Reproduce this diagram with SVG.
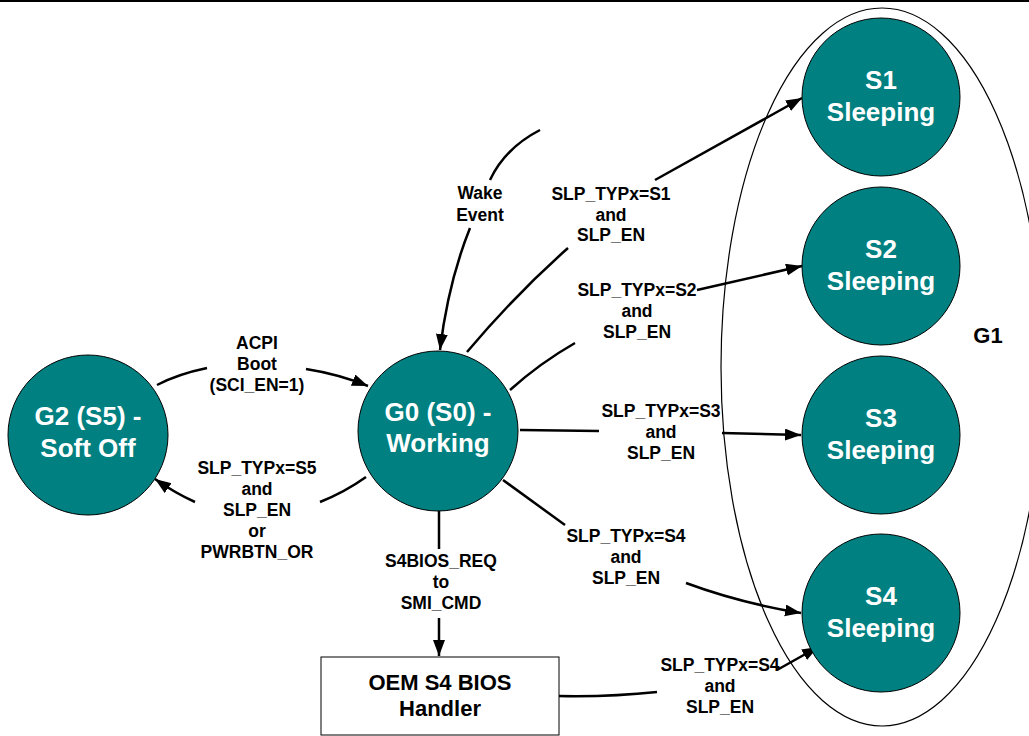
<svg xmlns="http://www.w3.org/2000/svg" width="1029" height="736" viewBox="0 0 1029 736">
<style>
.node{fill:#008080;stroke:#000;stroke-width:1}
.nt{font-family:"Liberation Sans",Arial,sans-serif;font-weight:bold;font-size:26px;fill:#fff;text-anchor:middle}
.lb{font-family:"Liberation Sans",Arial,sans-serif;font-weight:bold;font-size:17.5px;fill:#000;text-anchor:middle}
.bt{font-family:"Liberation Sans",Arial,sans-serif;font-weight:bold;font-size:22px;fill:#000;text-anchor:middle}
.c{fill:none;stroke:#000;stroke-width:2.5}
.ca{fill:none;stroke:#000;stroke-width:2.5;marker-end:url(#ah)}
</style>
<defs>
<marker id="ah" markerUnits="userSpaceOnUse" markerWidth="17" markerHeight="13" refX="16" refY="6" orient="auto">
<path d="M0,0 L16,6 L0,12 z" fill="#000"/>
</marker>
</defs>
<rect width="1029" height="736" fill="#fff"/>
<line x1="0" y1="1" x2="1029" y2="1" stroke="#000" stroke-width="2"/>
<g id="G1">
<ellipse cx="882" cy="367" rx="161" ry="359" fill="none" stroke="#000" stroke-width="1.2"/>
<text class="bt" x="988" y="343">G1</text>
</g>
<g id="connectors">
<path class="c" d="M540,130 Q505,148 490,180"/>
<path class="ca" d="M470,228 Q448,283 440,350"/>
<path class="c" d="M467,352 Q515,295 568,248"/>
<path class="ca" d="M655,180 L802,98"/>
<path class="c" d="M510,390 Q540,363 575,343"/>
<path class="ca" d="M697,290 L802,266"/>
<path class="c" d="M520,430 L599,431"/>
<path class="ca" d="M722,433 L801,435"/>
<path class="c" d="M503,480 L565,525"/>
<path class="ca" d="M686,583 Q740,603 801,613"/>
<path class="c" d="M439,510 L439,549"/>
<path class="ca" d="M439,618 L439,656"/>
<path class="c" d="M559,696 Q610,697 657,692"/>
<path class="ca" d="M777,670 L818,647"/>
<path class="c" d="M157,385 Q178,374 207,368"/>
<path class="ca" d="M306,369 Q338,374 368,386"/>
<path class="c" d="M366,477 Q345,492 320,502"/>
<path class="ca" d="M195,502 Q175,493 155,479"/>
<text class="lb" x="480" y="199">Wake</text>
<text class="lb" x="480" y="221">Event</text>
<text class="lb" x="611" y="200">SLP_TYPx=S1</text>
<text class="lb" x="611" y="220.5">and</text>
<text class="lb" x="611" y="241">SLP_EN</text>
<text class="lb" x="637" y="296">SLP_TYPx=S2</text>
<text class="lb" x="637" y="317">and</text>
<text class="lb" x="637" y="338">SLP_EN</text>
<text class="lb" x="661" y="417">SLP_TYPx=S3</text>
<text class="lb" x="661" y="438">and</text>
<text class="lb" x="661" y="459">SLP_EN</text>
<text class="lb" x="626" y="542">SLP_TYPx=S4</text>
<text class="lb" x="626" y="563">and</text>
<text class="lb" x="626" y="584">SLP_EN</text>
<text class="lb" x="441" y="567">S4BIOS_REQ</text>
<text class="lb" x="441" y="588">to</text>
<text class="lb" x="441" y="609">SMI_CMD</text>
<text class="lb" x="720" y="671">SLP_TYPx=S4</text>
<text class="lb" x="720" y="692">and</text>
<text class="lb" x="720" y="713">SLP_EN</text>
<text class="lb" x="257" y="349">ACPI</text>
<text class="lb" x="257" y="370">Boot</text>
<text class="lb" x="257" y="391">(SCI_EN=1)</text>
<text class="lb" x="257" y="474">SLP_TYPx=S5</text>
<text class="lb" x="257" y="495">and</text>
<text class="lb" x="257" y="516">SLP_EN</text>
<text class="lb" x="257" y="537">or</text>
<text class="lb" x="257" y="558">PWRBTN_OR</text>
</g>
<g id="G2">
<circle class="node" cx="88" cy="435" r="80"/>
<text class="nt" x="88" y="425">G2 (S5) -</text>
<text class="nt" x="88" y="457">Soft Off</text>
</g>
<g id="G0">
<circle class="node" cx="438" cy="431" r="80"/>
<text class="nt" x="438" y="421">G0 (S0) -</text>
<text class="nt" x="438" y="452">Working</text>
</g>
<g id="S1">
<circle class="node" cx="881" cy="97" r="79"/>
<text class="nt" x="881" y="89">S1</text>
<text class="nt" x="881" y="121">Sleeping</text>
</g>
<g id="S2">
<circle class="node" cx="881" cy="266" r="79"/>
<text class="nt" x="881" y="258">S2</text>
<text class="nt" x="881" y="290">Sleeping</text>
</g>
<g id="S3">
<circle class="node" cx="881" cy="435" r="79"/>
<text class="nt" x="881" y="427">S3</text>
<text class="nt" x="881" y="459">Sleeping</text>
</g>
<g id="S4">
<circle class="node" cx="881" cy="613" r="79"/>
<text class="nt" x="881" y="605">S4</text>
<text class="nt" x="881" y="637">Sleeping</text>
</g>
<g id="OEM">
<rect x="321" y="657" width="238" height="78" fill="#fff" stroke="#000" stroke-width="1"/>
<text class="bt" x="440" y="690">OEM S4 BIOS</text>
<text class="bt" x="440" y="716">Handler</text>
</g>
</svg>
